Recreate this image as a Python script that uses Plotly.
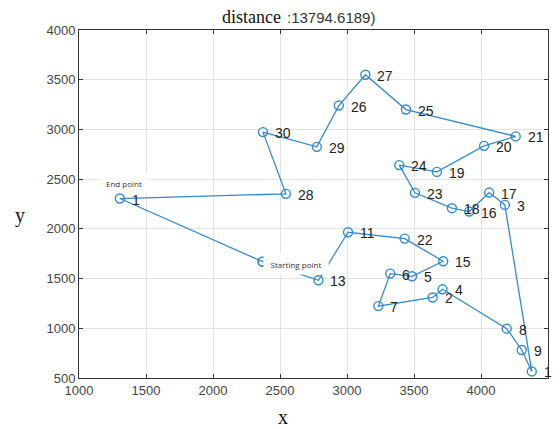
import plotly.graph_objects as go

# Tour order (closed loop), node labels and coordinates
labels = ["", "1", "28", "30", "29", "26", "27", "25", "21", "20", "19", "24", "23",
          "18", "16", "17", "3", "10", "9", "8", "4", "2", "7", "6", "5", "15", "22",
          "11", "13", ""]
xs = [2370, 1305, 2544, 2373, 2775, 2939, 3137, 3440, 4259, 4023, 3671, 3390, 3507,
      3783, 3912, 4061, 4178, 4379, 4304, 4192, 3713, 3639, 3234, 3323, 3485, 3718, 3430,
      3008, 2787, 2370]
ys = [1670, 2305, 2352, 2973, 2825, 3240, 3550, 3200, 2930, 2835, 2573, 2641, 2362,
      2208, 2174, 2365, 2241, 566, 782, 996, 1392, 1310, 1223, 1550, 1523, 1674, 1902,
      1966, 1483, 1670]

x_ticks = [1000, 1500, 2000, 2500, 3000, 3500, 4000, 4500]
y_ticks = [500, 1000, 1500, 2000, 2500, 3000, 3500, 4000]

blue = "#3589cf"

# page body has an 8px default margin; figure is sized so the plot area
# lands at screen x 79..548, y 30..378
OFF = 8
L, T, PW, PH = 79 - OFF, 30 - OFF, 469, 348

fig = go.Figure()
fig.add_trace(go.Scatter(
    x=xs, y=ys, mode="lines+markers",
    line=dict(color=blue, width=1.3),
    marker=dict(symbol="circle-open", size=9, color=blue, line=dict(width=1.4, color=blue)),
    hoverinfo="skip", showlegend=False,
))


def px(sx):
    return (sx - 79) / PW


def py(sy):
    return 1 - (sy - 30) / PH


annotations = []
for lx, ly, lab in zip(xs, ys, labels):
    if not lab:
        continue
    annotations.append(dict(
        x=lx, y=ly, xref="x", yref="y", text=lab, showarrow=False,
        xanchor="left", yanchor="middle", xshift=10, yshift=-1,
        font=dict(family="Arial, Liberation Sans", size=14, color="#222"),
    ))

# callout labels (white boxes cover what lies beneath)
annotations.append(dict(
    x=px(124), y=py(183), xref="paper", yref="paper",
    text="End point", showarrow=False, xanchor="center", yanchor="middle",
    font=dict(family="Open Sans, Noto Sans", size=8, color="#333"),
    bgcolor="white", borderpad=2, width=44, height=14,
))
annotations.append(dict(
    x=px(296), y=py(264), xref="paper", yref="paper",
    text="Starting point", showarrow=False, xanchor="center", yanchor="middle",
    font=dict(family="Open Sans, Noto Sans", size=8, color="#333"),
    bgcolor="white", borderpad=2, width=60, height=16,
))

# title parts
annotations.append(dict(
    x=px(283), y=py(17), xref="paper", yref="paper",
    text="distance", showarrow=False, xanchor="right", yanchor="middle",
    font=dict(family="Liberation Serif, Times New Roman", size=18, color="#111"),
))
annotations.append(dict(
    x=px(285), y=py(18), xref="paper", yref="paper",
    text=":13794.6189)", showarrow=False, xanchor="left", yanchor="middle",
    font=dict(family="Arial, Liberation Sans", size=15, color="#333"),
))
# axis labels
annotations.append(dict(
    x=px(283), y=py(417), xref="paper", yref="paper",
    text="x", showarrow=False, xanchor="center", yanchor="middle",
    font=dict(family="Liberation Serif, Times New Roman", size=20, color="#111"),
))
annotations.append(dict(
    x=px(20), y=py(216), xref="paper", yref="paper",
    text="y", showarrow=False, xanchor="center", yanchor="middle",
    font=dict(family="Liberation Serif, Times New Roman", size=20, color="#111"),
))

axis_common = dict(
    showgrid=True, gridcolor="#e3e3e3", gridwidth=1,
    showline=True, linecolor="#333", linewidth=1, mirror="ticks",
    ticks="inside", ticklen=4, tickcolor="#333",
    zeroline=False,
    tickfont=dict(family="Arial, Liberation Sans", size=13, color="#444"),
)

fig.update_layout(
    width=L + PW + 12, height=T + PH + 51,
    margin=dict(l=L, r=12, t=T, b=51),
    paper_bgcolor="white", plot_bgcolor="white",
    xaxis=dict(range=[1000, 4500], tickvals=x_ticks, ticktext=[str(v) for v in x_ticks], **axis_common),
    yaxis=dict(range=[500, 4000], tickvals=y_ticks, ticktext=[str(v) for v in y_ticks], **axis_common),
    annotations=annotations,
)

fig.write_html("out.html")
